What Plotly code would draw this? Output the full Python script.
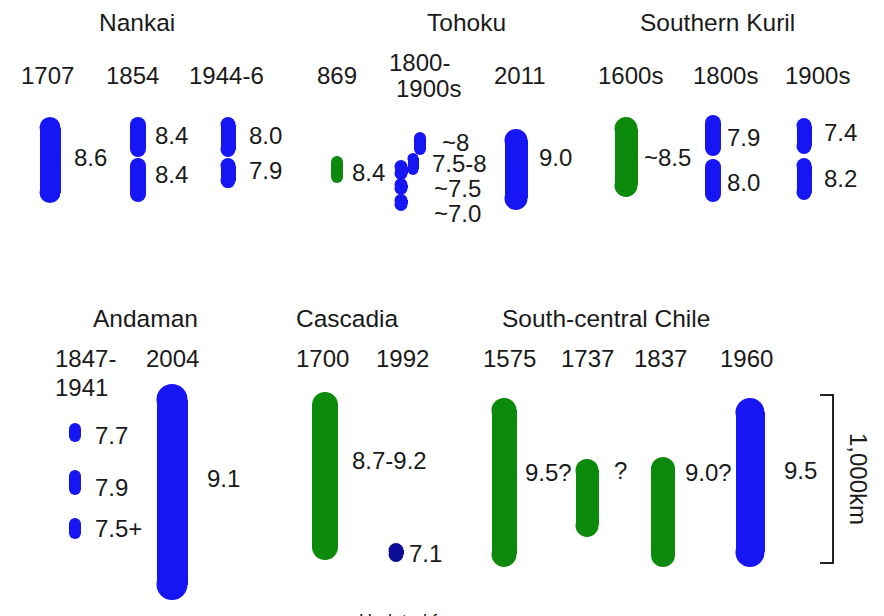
import plotly.graph_objects as go

# ---------------- data ----------------
regions = ["Nankai", "Tohoku", "Southern Kuril", "Andaman", "Cascadia", "South-central Chile"]

# events (one column each)
event_region = [0, 0, 0, 1, 1, 1, 2, 2, 2, 3, 3, 4, 4, 5, 5, 5, 5]
event_years = ["1707", "1854", "1944-6", "869", "1800-|1900s", "2011",
               "1600s", "1800s", "1900s", "1847-|1941", "2004",
               "1700", "1992", "1575", "1737", "1837", "1960"]

# rupture segments: owning event, along-strike start (km), rupture length (km), evidence type
seg_event = [0, 1, 1, 2, 2, 3, 4, 4, 4, 4, 4, 5, 6, 7, 7, 8, 8, 9, 9, 9, 10, 11, 12, 13, 14, 15, 16]
seg_start_km = [12, 12, 256, 12, 256, 244, 101, 226, 268, 375, 470, 83, 12, 0, 262, 18, 256,
                232, 512, 798, 0, 48, 946, 83, 446, 435, 83]
seg_length_km = [512, 238, 262, 238, 179, 161, 137, 131, 119, 101, 101, 482, 476, 244, 256, 214, 250,
                 113, 149, 125, 1286, 1000, 113, 1006, 464, 655, 1006]
seg_kind = ["historical", "historical", "historical", "historical", "historical", "geologic",
            "historical", "historical", "historical", "historical", "historical", "historical",
            "geologic", "historical", "historical", "historical", "historical",
            "historical", "historical", "historical", "historical", "geologic", "moderate",
            "geologic", "geologic", "geologic", "historical"]

# magnitude labels
mag_text = ["8.6", "8.4", "8.4", "8.0", "7.9",
            "8.4", "~8", "7.5-8", "~7.5", "~7.0", "9.0",
            "~8.5", "7.9", "8.0", "7.4", "8.2",
            "7.7", "7.9", "7.5+", "9.1",
            "8.7-9.2", "7.1",
            "9.5?", "?", "9.0?", "9.5"]

scale_bar_km = 1000
scale_bar_label = "1,000km"
footer_text = "Updated from"

# ---------------- layout / style ----------------
PAGE_W, PAGE_H = 884, 616
OFF = 8                             # page body margin
W, H = PAGE_W - OFF, PAGE_H - OFF
KM_PER_PX = 1000 / 168.0            # vertical scale of the drawing
def Y(px):
    return px * KM_PER_PX

row_origin_px = [115, 384]          # top of each row of ruptures
region_row = [0, 0, 0, 1, 1, 1]
region_title_xy = [(137, 22), (466, 22), (717, 22), (145, 318), (347, 318), (606, 318)]

event_x = [50, 138, 228, 337, 401, 516, 626, 713, 804, 75, 172, 325, 396, 504, 587, 663, 750]
# per-line label positions (x, y) for each event label
event_label_xy = [[(47, 75)], [(132, 75)], [(226, 75)], [(337, 75)], [(419, 62), (428, 88)], [(520, 75)],
                  [(630, 75)], [(725, 75)], [(817, 75)], [(53, 358), (53, 387)], [(172, 358)],
                  [(322, 358)], [(402, 358)], [(509, 358)], [(587, 358)], [(660, 358)], [(746, 358)]]
event_label_anchor = ["center"] * 9 + ["left"] + ["center"] * 7

seg_width_px = [21, 16, 16, 15, 15, 12, 12, 11, 13, 13, 13, 23, 23, 16, 16, 15, 15,
                12, 12, 12, 31, 26, 15, 25, 23, 24, 29]
seg_dx_px = [0] * 27
seg_dx_px[6] = 19
seg_dx_px[7] = 12

mag_xy = [(72, 157), (153, 135), (153, 174), (247, 135), (247, 170),
          (350, 172), (440, 142), (430, 163), (432, 188), (432, 213), (537, 157),
          (642, 157), (725, 137), (725, 182), (822, 132), (822, 178),
          (93, 435), (93, 487), (93, 528), (205, 478),
          (350, 460), (407, 553),
          (523, 472), (612, 470), (683, 472), (782, 470)]

kind_color = {"historical": "#1616f4", "geologic": "#0b8a0b", "moderate": "#0c0c94"}
FONT = "Liberation Sans, Arial, Helvetica, sans-serif"
TXT = "#1a1a1a"

# ---------------- build ruptures: straight body (bar) + round end caps (circle markers) ----------------
bx, bbase, blen, bw, bcol = [], [], [], [], []
cx, cy, csize, ccol = [], [], [], []
for i, ev in enumerate(seg_event):
    row = region_row[event_region[ev]]
    start = Y(row_origin_px[row]) + seg_start_km[i]
    end = start + seg_length_km[i]
    r_km = seg_width_px[i] / 2.0 * KM_PER_PX
    x = event_x[ev] + seg_dx_px[i]
    col = kind_color[seg_kind[i]]
    body0, body1 = start + r_km, end - r_km
    if body1 > body0:
        bx.append(x); bbase.append(body0); blen.append(body1 - body0)
        bw.append(seg_width_px[i]); bcol.append(col)
    else:
        body0 = body1 = (start + end) / 2.0
    for yc in (body0, body1):
        cx.append(x); cy.append(yc); csize.append(seg_width_px[i]); ccol.append(col)

fig = go.Figure()
fig.add_trace(go.Bar(
    x=bx, y=blen, base=bbase, width=bw,
    marker=dict(color=bcol, line=dict(width=0), opacity=1),
    showlegend=False, hoverinfo="skip"))
fig.add_trace(go.Scatter(
    x=cx, y=cy, mode="markers",
    marker=dict(symbol="circle", size=csize, color=ccol, opacity=1, line=dict(width=0)),
    showlegend=False, hoverinfo="skip"))

# scale bar bracket
sb_top = Y(row_origin_px[1]) + 65
fig.add_trace(go.Scatter(
    x=[820, 833, 833, 820], y=[sb_top, sb_top, sb_top + scale_bar_km, sb_top + scale_bar_km],
    mode="lines", line=dict(color="#222222", width=2), showlegend=False, hoverinfo="skip"))

ann = []
for name, (x, y) in zip(regions, region_title_xy):
    ann.append(dict(x=x, y=Y(y), text=name, xanchor="center", yanchor="middle",
                    font=dict(size=24.5, color=TXT, family=FONT)))
for txt, pos, anc in zip(event_years, event_label_xy, event_label_anchor):
    for line, (x, y) in zip(txt.split("|"), pos):
        ann.append(dict(x=x, y=Y(y), text=line, xanchor=anc, yanchor="middle",
                        font=dict(size=24, color=TXT, family=FONT)))
for txt, (x, y) in zip(mag_text, mag_xy):
    ann.append(dict(x=x, y=Y(y), text=txt, xanchor="left", yanchor="middle",
                    font=dict(size=24, color=TXT, family=FONT)))
ann.append(dict(x=858, y=sb_top + scale_bar_km / 2, text=scale_bar_label, textangle=90,
                xanchor="center", yanchor="middle", font=dict(size=24, color=TXT, family=FONT)))
ann.append(dict(x=357, y=Y(609), text=footer_text, xanchor="left", yanchor="top",
                font=dict(size=18, color=TXT, family=FONT)))
for a in ann:
    a.update(showarrow=False, xref="x", yref="y")

fig.update_layout(
    width=W, height=H, margin=dict(l=0, r=0, t=0, b=0),
    paper_bgcolor="white", plot_bgcolor="white",
    barmode="overlay", bargap=0,
    xaxis=dict(range=[OFF, PAGE_W], visible=False, fixedrange=True),
    yaxis=dict(range=[Y(PAGE_H), Y(OFF)], visible=False, fixedrange=True),
    annotations=ann,
)

fig.write_html("out.html", config={"displayModeBar": False})
